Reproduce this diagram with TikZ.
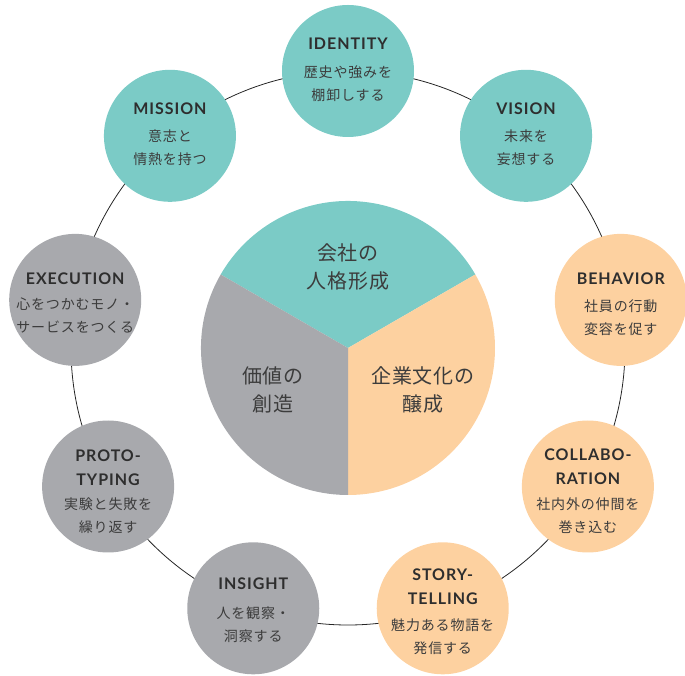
\documentclass[tikz,border=0pt]{standalone}
\usepackage{fontspec}
\setmainfont{Lato}
\newfontfamily\ttlfont[LetterSpace=6]{Lato}
\newfontfamily\jpfont[LetterSpace=6]{Noto Sans CJK JP}
\newfontfamily\jpbig[LetterSpace=4]{Noto Sans CJK JP}
\definecolor{cteal}{HTML}{7BCBC6}
\definecolor{corange}{HTML}{FDD1A0}
\definecolor{cgray}{HTML}{A8A9AD}
\definecolor{ctext}{HTML}{2E2E2E}
\definecolor{cbody}{HTML}{3C3C3C}
\tikzset{
  dot/.style={circle, minimum size=132pt, inner sep=0pt, draw=none},
  ttl/.style={inner sep=0pt, align=center, text=ctext, font=\ttlfont\bfseries\fontsize{16}{24}\selectfont},
  body/.style={inner sep=0pt, align=center, text=cbody, font=\jpfont\fontsize{14}{23}\selectfont},
  big/.style={inner sep=0pt, align=center, text=cbody, font=\jpbig\fontsize{20}{28}\selectfont},
  ring/.style={draw=black!85, line width=0.8pt}
}
\begin{document}
\begin{tikzpicture}
\useasboundingbox (-348pt,-328pt) rectangle (337pt,348pt);
\coordinate (hub) at (0,0);
\draw[ring] (hub) circle[radius=277pt];
% central pie
\fill[cteal] (hub) -- (30:147pt) arc[start angle=30,end angle=150,radius=147pt] -- cycle;
\fill[corange] (hub) -- (-90:147pt) arc[start angle=-90,end angle=30,radius=147pt] -- cycle;
\fill[cgray] (hub) -- (150:147pt) arc[start angle=150,end angle=270,radius=147pt] -- cycle;
\node[big] (p1) at (0pt,81pt) {会社の\\人格形成};
\node[big] (p2) at (-75pt,-42pt) {価値の\\創造};
\node[big] (p3) at (75pt,-42pt) {企業文化の\\醸成};
% outer circles
\node[dot, fill=cteal] (identity) at (90:277pt) {};
\node[ttl] (identity-t) at ([yshift=27pt]identity.center) {IDENTITY};
\node[body] (identity-b) at ([yshift=-12.5pt]identity.center) {歴史や強みを\\棚卸しする};

\node[dot, fill=cteal] (vision) at (50:277pt) {};
\node[ttl] (vision-t) at ([yshift=27pt]vision.center) {VISION};
\node[body] (vision-b) at ([yshift=-11.5pt]vision.center) {未来を\\妄想する};

\node[dot, fill=corange] (behavior) at (10:277pt) {};
\node[ttl] (behavior-t) at ([yshift=21pt]behavior.center) {BEHAVIOR};
\node[body] (behavior-b) at ([yshift=-17.5pt]behavior.center) {社員の行動\\変容を促す};

\node[dot, fill=corange] (collab) at (-30:277pt) {};
\node[ttl] (collab-t) at ([yshift=19.5pt]collab.center) {COLLABO-\\RATION};
\node[body] (collab-b) at ([yshift=-29.5pt]collab.center) {社内外の仲間を\\巻き込む};

\node[dot, fill=corange] (story) at (-70:277pt) {};
\node[ttl] (story-t) at ([yshift=22pt]story.center) {STORY-\\TELLING};
\node[body] (story-b) at ([yshift=-28.5pt]story.center) {魅力ある物語を\\発信する};

\node[dot, fill=cgray] (insight) at (-110:277pt) {};
\node[ttl] (insight-t) at ([yshift=25pt]insight.center) {INSIGHT};
\node[body] (insight-b) at ([yshift=-16pt]insight.center) {人を観察・\\洞察する};

\node[dot, fill=cgray] (proto) at (-150:277pt) {};
\node[ttl] (proto-t) at ([yshift=19pt]proto.center) {PROTO-\\TYPING};
\node[body] (proto-b) at ([yshift=-29pt]proto.center) {実験と失敗を\\繰り返す};

\node[dot, fill=cgray] (execution) at (170:277pt) {};
\node[ttl] (execution-t) at ([yshift=21pt]execution.center) {EXECUTION};
\node[body] (execution-b) at ([yshift=-16pt]execution.center) {心をつかむモノ・\\サービスをつくる};

\node[dot, fill=cteal] (mission) at (130:277pt) {};
\node[ttl] (mission-t) at ([yshift=27.5pt]mission.center) {MISSION};
\node[body] (mission-b) at ([yshift=-11.5pt]mission.center) {意志と\\情熱を持つ};
\end{tikzpicture}
\end{document}
